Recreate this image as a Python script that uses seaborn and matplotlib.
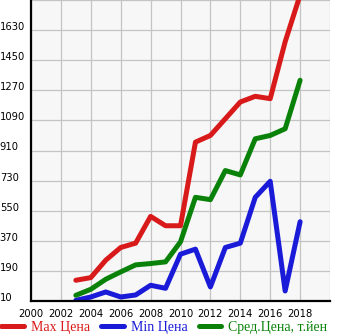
import matplotlib
matplotlib.use("Agg")
import matplotlib.pyplot as plt
from matplotlib.lines import Line2D
import seaborn as sns
import pandas as pd

years = list(range(2003, 2019))
max_price = [134, 150, 254, 330, 356, 516, 460, 460, 960, 1000, 1100, 1200, 1234, 1220, 1560, 1840]
min_price = [14, 34, 64, 34, 46, 104, 86, 290, 320, 94, 330, 356, 630, 726, 70, 484]
avg_price = [44, 80, 140, 184, 226, 234, 244, 364, 630, 616, 790, 764, 980, 1000, 1040, 1330]
series_names = ["Max Цена", "Min Цена", "Сред.Цена, т.йен"]
colors = ["#d91a1a", "#1a1ad9", "#0a820a"]
x_ticks = list(range(2000, 2021, 2))
x_labels = [str(v) for v in range(2000, 2019, 2)] + [""]
y_ticks = list(range(10, 1811, 180))
y_labels = [str(v) for v in range(10, 1631, 180)] + [""]

df = pd.concat([
    pd.DataFrame({"year": years, "price": vals, "series": name})
    for name, vals in zip(series_names, [max_price, min_price, avg_price])
])

sns.set_theme(style="white")
plt.rcParams["font.family"] = ["DejaVu Sans"]

fig = plt.figure(figsize=(3.45, 3.35), dpi=100)
ax = fig.add_axes([31/345, 34/335, 299/345, 301/335])
ax.set_facecolor("#f7f7f7")

sns.lineplot(data=df, x="year", y="price", hue="series", palette=colors,
             hue_order=series_names, linewidth=3.6, legend=False, ax=ax,
             solid_capstyle="round", solid_joinstyle="round")

ax.set_xlim(2000, 2020)
ax.set_ylim(10, 1810)
ax.set_xticks(x_ticks)
ax.set_xticklabels(x_labels, fontsize=7.2)
ax.set_yticks(y_ticks)
ax.set_yticklabels(y_labels, fontsize=7.2)
for lab in ax.get_yticklabels():
    lab.set_horizontalalignment("left")
    lab.set_verticalalignment("baseline")
ax.tick_params(axis="y", length=3, width=0.8, pad=19.5, colors="black")
ax.tick_params(axis="x", length=3, width=0.8, pad=2.5, colors="black")
ax.grid(True, color="#c4c4c4", linewidth=0.9)
ax.set_xlabel("")
ax.set_ylabel("")
for s in ["top", "right"]:
    ax.spines[s].set_visible(False)
for s in ["left", "bottom"]:
    ax.spines[s].set_color("black")
    ax.spines[s].set_linewidth(1.6)
    ax.spines[s].set_zorder(5)

handles = [Line2D([0], [0], color=c, linewidth=3.6, solid_capstyle="round") for c in colors]
leg = fig.legend(handles, series_names, loc="lower left", bbox_to_anchor=(0.0, 0.0),
                 ncol=3, frameon=False, prop={"family": "Liberation Serif", "size": 10},
                 handlelength=1.65, handletextpad=0.5, columnspacing=0.8, borderpad=0.05,
                 borderaxespad=0.0)
for t, c in zip(leg.get_texts(), colors):
    t.set_color(c)

fig.savefig("out.png", dpi=100, facecolor="white")
